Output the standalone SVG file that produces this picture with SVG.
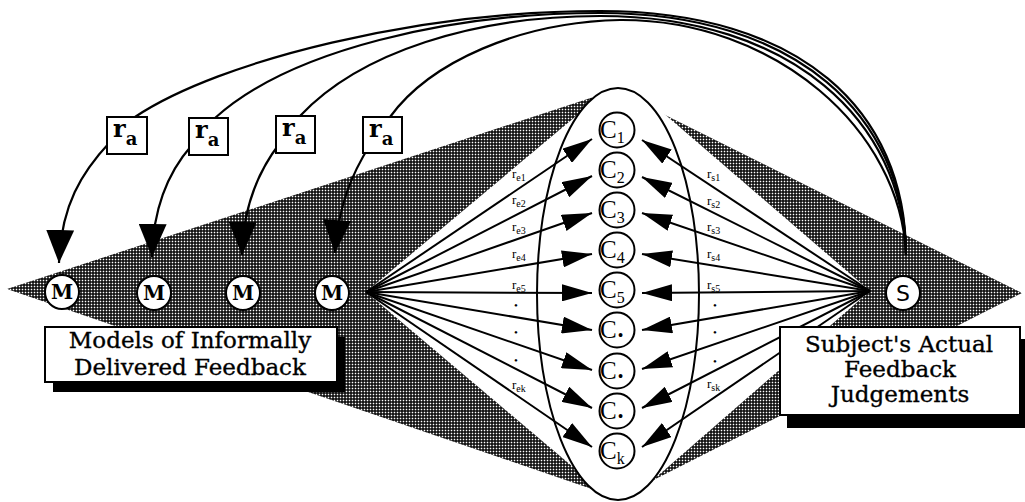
<svg xmlns="http://www.w3.org/2000/svg" width="1025" height="502" viewBox="0 0 1025 502">
<style>
.ln{fill:none;stroke:#000;stroke-width:2}
.arc{fill:none;stroke:#000;stroke-width:2.2}
.node{fill:#fff;stroke:#000;stroke-width:2}
.lbl{font-family:"DejaVu Serif","Liberation Serif",serif;font-size:23px;fill:#000;stroke:#000;stroke-width:0.35;text-anchor:middle}
.m{font-family:"DejaVu Serif","Liberation Serif",serif;font-size:20px;font-weight:bold;text-anchor:middle}
.s{font-family:"DejaVu Sans","Liberation Sans",sans-serif;font-size:22px;text-anchor:middle}
.c{font-family:"Liberation Serif",serif;font-size:25px}
.cs{font-size:16px}
.ra{font-family:"DejaVu Serif","Liberation Serif",serif;font-size:24px;font-weight:bold}
.ras{font-size:18px}
.re{font-family:"Liberation Serif",serif;font-size:13px;fill:#000}
.res{font-size:10px}
.dot{font-family:"Liberation Serif",serif;font-size:11px;text-anchor:middle}
</style>
<defs>
<pattern id="shade" width="3" height="3" patternUnits="userSpaceOnUse">
<rect width="3" height="3" fill="#000"/>
<rect x="0.7" y="0.7" width="1.6" height="1.6" fill="#fff"/>
</pattern>
<marker id="ah" markerUnits="userSpaceOnUse" viewBox="0 0 30 17" markerWidth="30" markerHeight="17" refX="30" refY="8.5" orient="auto">
<path d="M0,0 L30,8.5 L0,17 z" fill="#000"/>
</marker>
<marker id="big" markerUnits="userSpaceOnUse" viewBox="0 0 33 28" markerWidth="33" markerHeight="28" refX="33" refY="14" orient="auto">
<path d="M0,0 L33,14 L0,28 z" fill="#000"/>
</marker>
</defs>
<rect width="1025" height="502" fill="#fff"/>

<g id="background">
<polygon points="7,289 615,90 1022,293 618,498" fill="url(#shade)"/>
<polygon points="366,292 612,86 612,500" fill="#fff"/>
<polygon points="870,291 625,80 630,500" fill="#fff"/>
<ellipse cx="618" cy="294" rx="81" ry="206" fill="#fff" stroke="#000" stroke-width="2"/>
</g>

<g id="connectors">
<g id="fan-left" marker-end="url(#ah)">
<line class="ln" x1="366" y1="292" x2="592" y2="139"/>
<line class="ln" x1="366" y1="292" x2="592" y2="176"/>
<line class="ln" x1="366" y1="292" x2="592" y2="213"/>
<line class="ln" x1="366" y1="292" x2="592" y2="254"/>
<line class="ln" x1="366" y1="292" x2="592" y2="293"/>
<line class="ln" x1="366" y1="292" x2="592" y2="330"/>
<line class="ln" x1="366" y1="292" x2="592" y2="370"/>
<line class="ln" x1="366" y1="292" x2="592" y2="408"/>
<line class="ln" x1="366" y1="292" x2="592" y2="447"/>
</g>
<g id="fan-right" marker-end="url(#ah)">
<line class="ln" x1="870" y1="291" x2="642" y2="140"/>
<line class="ln" x1="870" y1="291" x2="642" y2="177"/>
<line class="ln" x1="870" y1="291" x2="642" y2="213"/>
<line class="ln" x1="870" y1="291" x2="642" y2="254"/>
<line class="ln" x1="870" y1="291" x2="642" y2="293"/>
<line class="ln" x1="870" y1="291" x2="642" y2="330"/>
<line class="ln" x1="870" y1="291" x2="642" y2="369"/>
<line class="ln" x1="870" y1="291" x2="642" y2="408"/>
<line class="ln" x1="870" y1="291" x2="642" y2="447"/>
</g>
<g id="fan-labels">
<text class="re" x="512" y="178">r<tspan class="res" dy="3">e1</tspan></text>
<text class="re" x="512" y="204">r<tspan class="res" dy="3">e2</tspan></text>
<text class="re" x="512" y="231">r<tspan class="res" dy="3">e3</tspan></text>
<text class="re" x="512" y="258">r<tspan class="res" dy="3">e4</tspan></text>
<text class="re" x="512" y="289">r<tspan class="res" dy="3">e5</tspan></text>
<text class="dot" x="516" y="309">•</text>
<text class="dot" x="516" y="336">•</text>
<text class="dot" x="516" y="364">•</text>
<text class="re" x="512" y="389">r<tspan class="res" dy="3">ek</tspan></text>
<text class="re" x="707" y="178">r<tspan class="res" dy="3">s1</tspan></text>
<text class="re" x="707" y="205">r<tspan class="res" dy="3">s2</tspan></text>
<text class="re" x="707" y="231">r<tspan class="res" dy="3">s3</tspan></text>
<text class="re" x="707" y="258">r<tspan class="res" dy="3">s4</tspan></text>
<text class="re" x="707" y="289">r<tspan class="res" dy="3">s5</tspan></text>
<text class="dot" x="715" y="309">•</text>
<text class="dot" x="715" y="336">•</text>
<text class="dot" x="715" y="365">•</text>
<text class="re" x="707" y="388">r<tspan class="res" dy="3">sk</tspan></text>
</g>
<g id="arcs" marker-end="url(#big)">
<path class="arc" d="M906,255 C906,110 800,11 600,11 C420,11 220,60 135,117 L110,142 C82,172 61,205 59,263"/>
<path class="arc" d="M906,255 C905,116 797,13 600,13 C450,13 290,50 215,118 L192,145 C170,170 153,205 152,257"/>
<path class="arc" d="M906,255 C903,122 793,16 600,16 C475,16 360,52 300,116 L280,143 C259,170 243,205 242,255"/>
<path class="arc" d="M906,255 C901,130 775,19 620,20 C520,22 430,62 390,117 L370,145 C353,172 338,205 335,253"/>
</g>
<g id="ra-labels">
<rect class="node" x="107" y="117" width="40" height="37"/>
<text class="ra" x="113" y="137">r<tspan class="ras" dy="8">a</tspan></text>
<rect class="node" x="189" y="118" width="39" height="37"/>
<text class="ra" x="195" y="138">r<tspan class="ras" dy="8">a</tspan></text>
<rect class="node" x="276" y="116" width="39" height="37"/>
<text class="ra" x="282" y="136">r<tspan class="ras" dy="8">a</tspan></text>
<rect class="node" x="363" y="117" width="39" height="36"/>
<text class="ra" x="369" y="137">r<tspan class="ras" dy="8">a</tspan></text>
</g>
</g>

<g id="node-M1"><circle class="node" cx="62" cy="292" r="17"/><text class="m" x="62" y="299">M</text></g>
<g id="node-M2"><circle class="node" cx="154" cy="293" r="17"/><text class="m" x="154" y="300">M</text></g>
<g id="node-M3"><circle class="node" cx="243" cy="293" r="17"/><text class="m" x="243" y="300">M</text></g>
<g id="node-M4"><circle class="node" cx="332" cy="293" r="17"/><text class="m" x="332" y="300">M</text></g>
<g id="node-S"><circle class="node" cx="903" cy="293" r="17"/><text class="s" x="903" y="301">S</text></g>

<g id="node-C1"><circle class="node" cx="617" cy="130" r="17.5"/><text class="c" x="600" y="138">C<tspan class="cs" dy="5">1</tspan></text></g>
<g id="node-C2"><circle class="node" cx="617" cy="170" r="17.5"/><text class="c" x="600" y="178">C<tspan class="cs" dy="5">2</tspan></text></g>
<g id="node-C3"><circle class="node" cx="617" cy="210" r="17.5"/><text class="c" x="600" y="218">C<tspan class="cs" dy="5">3</tspan></text></g>
<g id="node-C4"><circle class="node" cx="617" cy="250" r="17.5"/><text class="c" x="600" y="258">C<tspan class="cs" dy="5">4</tspan></text></g>
<g id="node-C5"><circle class="node" cx="617" cy="290" r="17.5"/><text class="c" x="600" y="298">C<tspan class="cs" dy="5">5</tspan></text></g>
<g id="node-C6"><circle class="node" cx="617" cy="330" r="17.5"/><text class="c" x="600" y="338">C<tspan class="cs" dx="1" dy="3">•</tspan></text></g>
<g id="node-C7"><circle class="node" cx="617" cy="371" r="17.5"/><text class="c" x="600" y="379">C<tspan class="cs" dx="1" dy="3">•</tspan></text></g>
<g id="node-C8"><circle class="node" cx="617" cy="411" r="17.5"/><text class="c" x="600" y="419">C<tspan class="cs" dx="1" dy="3">•</tspan></text></g>
<g id="node-Ck"><circle class="node" cx="617" cy="451" r="17.5"/><text class="c" x="600" y="459">C<tspan class="cs" dy="5">k</tspan></text></g>

<g id="box-models">
<rect x="53" y="337" width="292" height="55" fill="#000"/>
<rect class="node" x="45" y="327" width="292" height="55"/>
<text class="lbl" x="190" y="348">Models of Informally</text>
<text class="lbl" x="190" y="375">Delivered Feedback</text>
</g>
<g id="box-subject">
<rect x="787" y="339" width="240" height="89" fill="#000"/>
<rect class="node" x="780" y="327" width="240" height="88"/>
<text class="lbl" x="899" y="352">Subject's Actual</text>
<text class="lbl" x="900" y="377">Feedback</text>
<text class="lbl" x="900" y="402">Judgements</text>
</g>
</svg>
